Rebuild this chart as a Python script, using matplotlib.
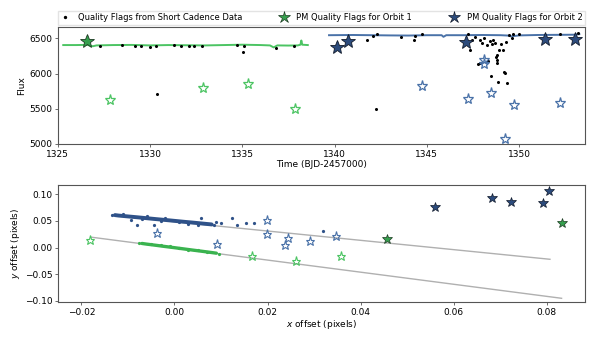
import matplotlib
matplotlib.use("Agg")
import matplotlib.pyplot as plt
from matplotlib.lines import Line2D

# ---------------- top panel data ----------------
lc1_t = [1325.3, 1326.0, 1326.6, 1326.9, 1327.1, 1328.0, 1329.0, 1330.0, 1331.0, 1332.0,
         1333.0, 1334.0, 1335.0, 1336.0, 1336.5, 1336.7, 1336.9, 1337.5, 1338.0, 1338.15,
         1338.2, 1338.25, 1338.55]
lc1_f = [6405, 6405, 6408, 6388, 6400, 6405, 6407, 6400, 6405, 6402,
         6400, 6405, 6410, 6405, 6400, 6372, 6400, 6398, 6400, 6410,
         6470, 6410, 6405]
lc2_t = [1339.7, 1341.0, 1342.0, 1343.0, 1344.0, 1345.0, 1345.8, 1345.9, 1346.05, 1347.0,
         1348.0, 1349.0, 1349.4, 1349.55, 1350.0, 1351.0, 1352.0, 1353.0, 1353.26]
lc2_f = [6545, 6548, 6545, 6542, 6540, 6545, 6545, 6522, 6545, 6545,
         6548, 6545, 6540, 6528, 6542, 6548, 6550, 6552, 6560]

qf_t = [1327.3, 1328.5, 1329.2, 1329.5, 1330.0, 1330.3, 1330.36, 1331.3, 1331.7, 1332.1,
        1332.4, 1332.8, 1334.7, 1335.02, 1335.1, 1336.8, 1337.8,
        1341.74, 1342.06, 1342.23, 1342.28, 1343.58, 1344.32, 1344.36, 1344.72,
        1347.24, 1347.33, 1347.42, 1347.6, 1347.78, 1347.87, 1347.9, 1348.0, 1348.1,
        1348.24, 1348.33, 1348.4, 1348.5, 1348.55, 1348.6, 1348.7, 1348.74, 1348.78,
        1348.78, 1348.81, 1348.83, 1348.9, 1349.0, 1349.1, 1349.17, 1349.23, 1349.3,
        1349.32, 1349.46, 1349.6, 1349.68, 1350.0, 1352.2, 1353.2]
qf_f = [6395, 6400, 6392, 6398, 6380, 6398, 5714, 6400, 6395, 6392,
        6398, 6395, 6408, 6309, 6395, 6360, 6390,
        6481, 6529, 5500, 6567, 6519, 6471, 6529, 6567,
        6567, 6338, 6480, 6520, 6129, 6148, 6470, 6440, 6500,
        6405, 6176, 6460, 5971, 6420, 6480, 6440, 6233, 6186,
        6151, 6260, 5876, 6333, 6420, 6333, 6019, 6005, 6450,
        5862, 6543, 6500, 6567, 6560, 6567, 6581]

pm1_good_t = [1326.6]
pm1_good_f = [6466]
pm1_bad_t = [1327.83, 1332.85, 1335.33, 1337.86]
pm1_bad_f = [5623, 5794, 5857, 5500]
pm2_good_t = [1340.11, 1340.71, 1347.12, 1351.4, 1353.02]
pm2_good_f = [6371, 6466, 6452, 6486, 6490]
pm2_bad_t = [1344.73, 1347.24, 1348.11, 1348.08, 1348.47, 1349.23, 1349.73, 1352.2]
pm2_bad_f = [5819, 5643, 6190, 6143, 5724, 5067, 5557, 5586]

# ---------------- bottom panel data ----------------
band1_x = [-0.0128, -0.0120, -0.0100, -0.0080, -0.0060, -0.0040, -0.0020, 0.0000,
           0.0020, 0.0040, 0.0060, 0.0080]
band1_y = [0.0607, 0.0598, 0.0582, 0.0566, 0.0549, 0.0532, 0.0516, 0.0499,
           0.0482, 0.0466, 0.0449, 0.0432]
scat1_x = [-0.0134, -0.0094, -0.0080, -0.0044, 0.0056, 0.0086, 0.0090, 0.0099, 0.0124,
           0.0134, 0.0154, 0.0170, 0.0319, -0.0110, -0.0060, -0.0020, 0.0030, -0.0070,
           -0.0030, 0.0010, 0.0050]
scat1_y = [0.0612, 0.0510, 0.0430, 0.0430, 0.0560, 0.0428, 0.0470, 0.0460, 0.0560,
           0.0430, 0.0450, 0.0450, 0.0310, 0.0622, 0.0582, 0.0545, 0.0443, 0.0535,
           0.0500, 0.0470, 0.0425]
band2_x = [-0.0070, -0.0060, -0.0040, -0.0020, 0.0000, 0.0020, 0.0040, 0.0060, 0.0080, 0.0090]
band2_y = [0.0076, 0.0064, 0.0042, 0.0019, -0.0003, -0.0026, -0.0049, -0.0071, -0.0094, -0.0106]
scat2_x = [-0.0076, -0.0050, -0.0030, 0.0010, 0.0030, 0.0050, 0.0095, -0.0010, 0.0070]
scat2_y = [0.0082, 0.0062, 0.0040, -0.0005, -0.0048, -0.0052, -0.0112, 0.0022, -0.0075]

fit1_x = [-0.0134, 0.0807]
fit1_y = [0.0600, -0.0220]
fit2_x = [-0.0180, 0.0832]
fit2_y = [0.0195, -0.0950]

off1_good_x = [0.0457, 0.0832]
off1_good_y = [0.0164, 0.0460]
off1_bad_x = [-0.0181, 0.0167, 0.0261, 0.0357]
off1_bad_y = [0.0145, -0.0150, -0.0245, -0.0150]
off2_good_x = [0.0559, 0.0682, 0.0723, 0.0792, 0.0805]
off2_good_y = [0.0750, 0.0930, 0.0850, 0.0840, 0.1060]
off2_bad_x = [-0.0037, 0.0092, 0.0198, 0.0199, 0.0244, 0.0237, 0.0292, 0.0348]
off2_bad_y = [0.0270, 0.0070, 0.0520, 0.0260, 0.0170, 0.0040, 0.0130, 0.0210]

GREEN = "#4cc463"
GREEN_DARK = "#36a04e"
GREEN_BAND = "#3ab34f"
BLUE = "#4a72a8"
BLUE_DARK = "#2c4b7c"
BLUE_BAND = "#2f5289"
SPINE = "#555555"

plt.rcParams["font.family"] = "DejaVu Sans"
fig = plt.figure(figsize=(5.98, 3.44), dpi=100)
ax1 = fig.add_axes([0.0965, 0.5814, 0.8815, 0.3392])
ax2 = fig.add_axes([0.0965, 0.1220, 0.8815, 0.3402])

# top panel
ax1.plot(lc1_t, lc1_f, color=GREEN, lw=1.4, zorder=2)
ax1.plot(lc2_t, lc2_f, color=BLUE, lw=1.4, zorder=2)
ax1.plot(qf_t, qf_f, ls="none", marker="o", ms=1.2, color="black", zorder=3)
ax1.plot(pm1_bad_t, pm1_bad_f, ls="none", marker="*", ms=8, mfc="none", mec=GREEN, mew=0.9, zorder=4)
ax1.plot(pm2_bad_t, pm2_bad_f, ls="none", marker="*", ms=8, mfc="none", mec=BLUE, mew=0.9, zorder=4)
ax1.plot(pm1_good_t, pm1_good_f, ls="none", marker="*", ms=10, mfc=GREEN_DARK, mec="#1d3a22", mew=0.6, zorder=5)
ax1.plot(pm2_good_t, pm2_good_f, ls="none", marker="*", ms=10, mfc=BLUE_DARK, mec="#111a2a", mew=0.6, zorder=5)
ax1.set_xlim(1325, 1353.56)
ax1.set_ylim(5000, 6657)
ax1.set_xticks([1325, 1330, 1335, 1340, 1345, 1350])
ax1.set_yticks([5000, 5500, 6000, 6500])
ax1.set_xlabel("Time (BJD-2457000)", fontsize=6.5, labelpad=1)
ax1.set_ylabel("Flux", fontsize=6.5, labelpad=2)

# bottom panel
ax2.plot(fit1_x, fit1_y, color="#b0b0b0", lw=1.0, zorder=1)
ax2.plot(fit2_x, fit2_y, color="#b0b0b0", lw=1.0, zorder=1)
ax2.plot(band1_x, band1_y, color=BLUE_BAND, lw=2.8, solid_capstyle="round", zorder=2)
ax2.plot(band2_x, band2_y, color=GREEN_BAND, lw=2.4, solid_capstyle="round", zorder=2)
ax2.plot(scat1_x, scat1_y, ls="none", marker="o", ms=1.3, color=BLUE_BAND, zorder=2)
ax2.plot(scat2_x, scat2_y, ls="none", marker="o", ms=1.3, color=GREEN_BAND, zorder=2)
ax2.plot(off1_bad_x, off1_bad_y, ls="none", marker="*", ms=6.5, mfc="none", mec=GREEN, mew=0.8, zorder=3)
ax2.plot(off2_bad_x, off2_bad_y, ls="none", marker="*", ms=6.5, mfc="none", mec=BLUE, mew=0.8, zorder=3)
ax2.plot(off1_good_x, off1_good_y, ls="none", marker="*", ms=7, mfc=GREEN_DARK, mec="#1d3a22", mew=0.5, zorder=4)
ax2.plot(off2_good_x, off2_good_y, ls="none", marker="*", ms=7, mfc=BLUE_DARK, mec="#111a2a", mew=0.5, zorder=4)
ax2.set_xlim(-0.0251, 0.0882)
ax2.set_ylim(-0.102, 0.117)
ax2.set_xticks([-0.02, 0.0, 0.02, 0.04, 0.06, 0.08])
ax2.set_xticklabels(["\u22120.02", "0.00", "0.02", "0.04", "0.06", "0.08"])
ax2.set_yticks([-0.10, -0.05, 0.0, 0.05, 0.10])
ax2.set_yticklabels(["\u22120.10", "\u22120.05", "0.00", "0.05", "0.10"])
ax2.set_xlabel("$x$ offset (pixels)", fontsize=6.5, labelpad=1)
ax2.set_ylabel("$y$ offset (pixels)", fontsize=6.5, labelpad=2)

for ax in (ax1, ax2):
    for s in ax.spines.values():
        s.set_color(SPINE)
        s.set_linewidth(0.8)
    ax.tick_params(labelsize=6.5, length=2.5, width=0.6, color=SPINE, pad=1.5)

handles = [
    Line2D([], [], ls="none", marker="o", ms=1.4, color="black"),
    Line2D([], [], ls="none", marker="*", ms=9, mfc=GREEN_DARK, mec="#1d3a22", mew=0.5),
    Line2D([], [], ls="none", marker="*", ms=9, mfc=BLUE_DARK, mec="#111a2a", mew=0.5),
]
labels = ["Quality Flags from Short Cadence Data", "PM Quality Flags for Orbit 1",
          "PM Quality Flags for Orbit 2"]
fig.legend(handles, labels, loc="lower left", ncol=3, mode="expand",
           bbox_to_anchor=(0.0965, 1 - 24.5 / 344, 0.8815, 13 / 344),
           fontsize=6, frameon=True, borderaxespad=0, handlelength=1.2,
           handletextpad=0.9, borderpad=0.3, fancybox=False, edgecolor="#dddddd")

fig.savefig("out.png", dpi=100)
